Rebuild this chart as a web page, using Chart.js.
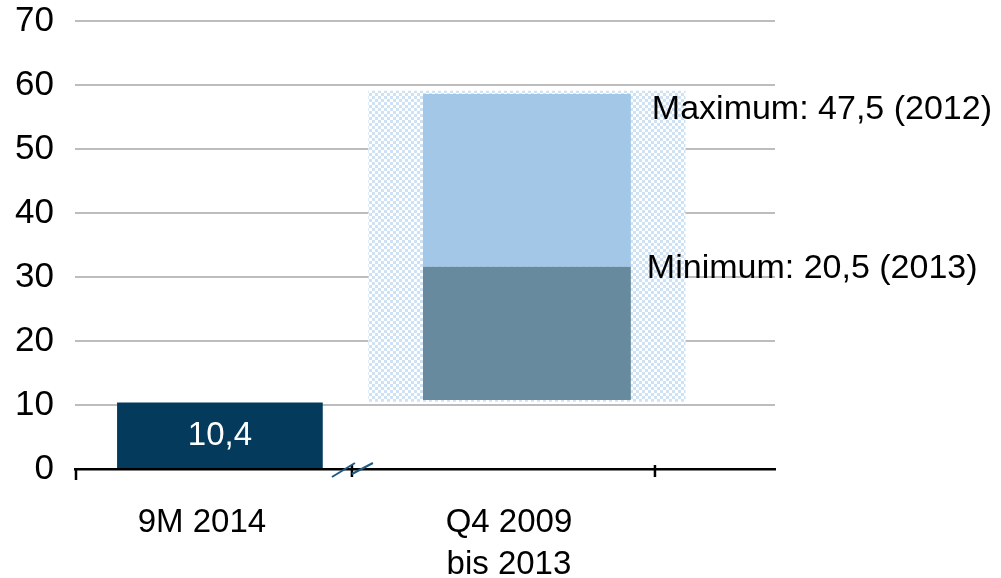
<!DOCTYPE html>
<html>
<head>
<meta charset="utf-8">
<script src="https://cdn.jsdelivr.net/npm/chart.js@4"></script>
<style>
  html, body { margin: 0; padding: 0; background: #fff; }
  #wrap { width: 1001px; height: 578px; }
</style>
</head>
<body>
<div id="wrap"><canvas id="rangeChart" width="1001" height="578"></canvas></div>
<script>
// chart data
const categories = ["9M 2014", ["Q4 2009", "bis 2013"]];
const currentBar = [10.4];          // 9M 2014
const rangeMinBar = [10.8, 31.6];   // Q4 2009 - 2013, lower segment
const rangeMaxBar = [31.6, 58.6];   // upper segment
const rangeBand = [10.5, 59.1];     // hatched background
const yTicks = [0, 10, 20, 30, 40, 50, 60, 70];
const valueLabel = "10,4";
const maxLabel = "Maximum: 47,5 (2012)";
const minLabel = "Minimum: 20,5 (2013)";

const FONT = "'Liberation Sans', Arial, sans-serif";

// light blue checker pattern for the band behind the range bar
function makeHatch() {
  const c = document.createElement("canvas");
  c.width = 6; c.height = 6;
  const g = c.getContext("2d");
  g.fillStyle = "#ffffff";
  g.fillRect(0, 0, 6, 6);
  g.fillStyle = "#cfe2f4";
  g.fillRect(0, 0, 3, 3);
  g.fillRect(3, 3, 3, 3);
  return g.createPattern(c, "repeat");
}

// extra drawing: value label, min/max notes, axis break and ticks
const decorations = {
  id: "decorations",
  afterDatasetsDraw(chart) {
    const { ctx, scales: { x, y } } = chart;
    const axisY = y.getPixelForValue(0);
    ctx.save();

    // value inside first bar
    ctx.font = "33px " + FONT;
    ctx.fillStyle = "#ffffff";
    ctx.textAlign = "center";
    ctx.textBaseline = "middle";
    ctx.fillText(valueLabel, x.getPixelForValue(0),
      (y.getPixelForValue(currentBar[0]) + axisY) / 2);

    // min / max notes right of the range bar
    const meta = chart.getDatasetMeta(2).data[0];
    const barRight = meta.x + meta.width / 2;
    ctx.font = "34px " + FONT;
    ctx.fillStyle = "#000000";
    ctx.textAlign = "left";
    ctx.fillText(maxLabel, barRight + 21, y.getPixelForValue(rangeMaxBar[1]) + 16);
    ctx.fillText(minLabel, barRight + 16, y.getPixelForValue(rangeMinBar[1]) + 2);

    // axis tick marks
    ctx.strokeStyle = "#000000";
    ctx.lineWidth = 2.5;
    const breakX = x.getPixelForValue(0.43);
    [x.left + 1, breakX, x.getPixelForValue(1.417)].forEach((px, i) => {
      ctx.beginPath();
      ctx.moveTo(px, i === 0 ? axisY : axisY - 4);
      ctx.lineTo(px, axisY + (i === 0 ? 11 : 8));
      ctx.stroke();
    });

    // axis break marks
    ctx.strokeStyle = "#1f5a80";
    ctx.lineWidth = 2;
    [[-20, 8, 3, -6], [0, 5, 21, -6]].forEach(([x1, y1, x2, y2]) => {
      ctx.beginPath();
      ctx.moveTo(breakX + x1, axisY + y1);
      ctx.lineTo(breakX + x2, axisY + y2);
      ctx.stroke();
    });
    ctx.restore();
  }
};

document.addEventListener("DOMContentLoaded", () => {
  const ctx = document.getElementById("rangeChart");
  new Chart(ctx, {
    type: "bar",
    data: {
      datasets: [
        {
          label: "9M 2014",
          data: [{ x: 0, y: [0, currentBar[0]] }],
          backgroundColor: "#043b5c",
          barPercentage: 0.67, categoryPercentage: 1,
          order: 1
        },
        {
          label: "Minimum",
          data: [{ x: 1, y: rangeMinBar }],
          backgroundColor: "#688a9e",
          barPercentage: 0.677, categoryPercentage: 1,
          order: 1
        },
        {
          label: "Maximum",
          data: [{ x: 1, y: rangeMaxBar }],
          backgroundColor: "#a2c7e7",
          barPercentage: 0.677, categoryPercentage: 1,
          order: 1
        },
        {
          label: "Band",
          data: [{ x: 1, y: rangeBand }],
          backgroundColor: makeHatch(),
          barPercentage: 1.033, categoryPercentage: 1,
          order: 3
        }
      ]
    },
    options: {
      responsive: false,
      animation: false,
      grouped: false,
      layout: { autoPadding: false, padding: { left: 0, right: 226, top: 21, bottom: 0 } },
      plugins: { legend: { display: false }, tooltip: { enabled: false } },
      scales: {
        x: {
          type: "linear",
          offset: false,
          min: -0.472, max: 1.808,
          grid: { display: false, drawTicks: false },
          border: { display: true, color: "#000000", width: 2.5 },
          afterBuildTicks: s => { s.ticks = categories.map((c, i) => ({ value: i })); },
          afterFit: s => { s.height = 109; },
          ticks: {
            autoSkip: false,
            maxRotation: 0,
            padding: 32,
            labelOffset: -18,
            color: "#000000",
            font: { family: FONT, size: 33, lineHeight: 1.3 },
            callback: v => categories[v]
          }
        },
        y: {
          min: 0, max: 70,
          afterBuildTicks: s => { s.ticks = yTicks.map(v => ({ value: v })); },
          afterFit: s => { s.width = 75; s.paddingTop = 0; s.paddingBottom = 0; },
          grid: { color: "#bdbdbd", lineWidth: 2, drawTicks: false },
          border: { display: false },
          ticks: {
            padding: 21,
            color: "#000000",
            font: { family: FONT, size: 35, lineHeight: 0.5 }
          }
        }
      }
    },
    plugins: [decorations]
  });
});
</script>
</body>
</html>
